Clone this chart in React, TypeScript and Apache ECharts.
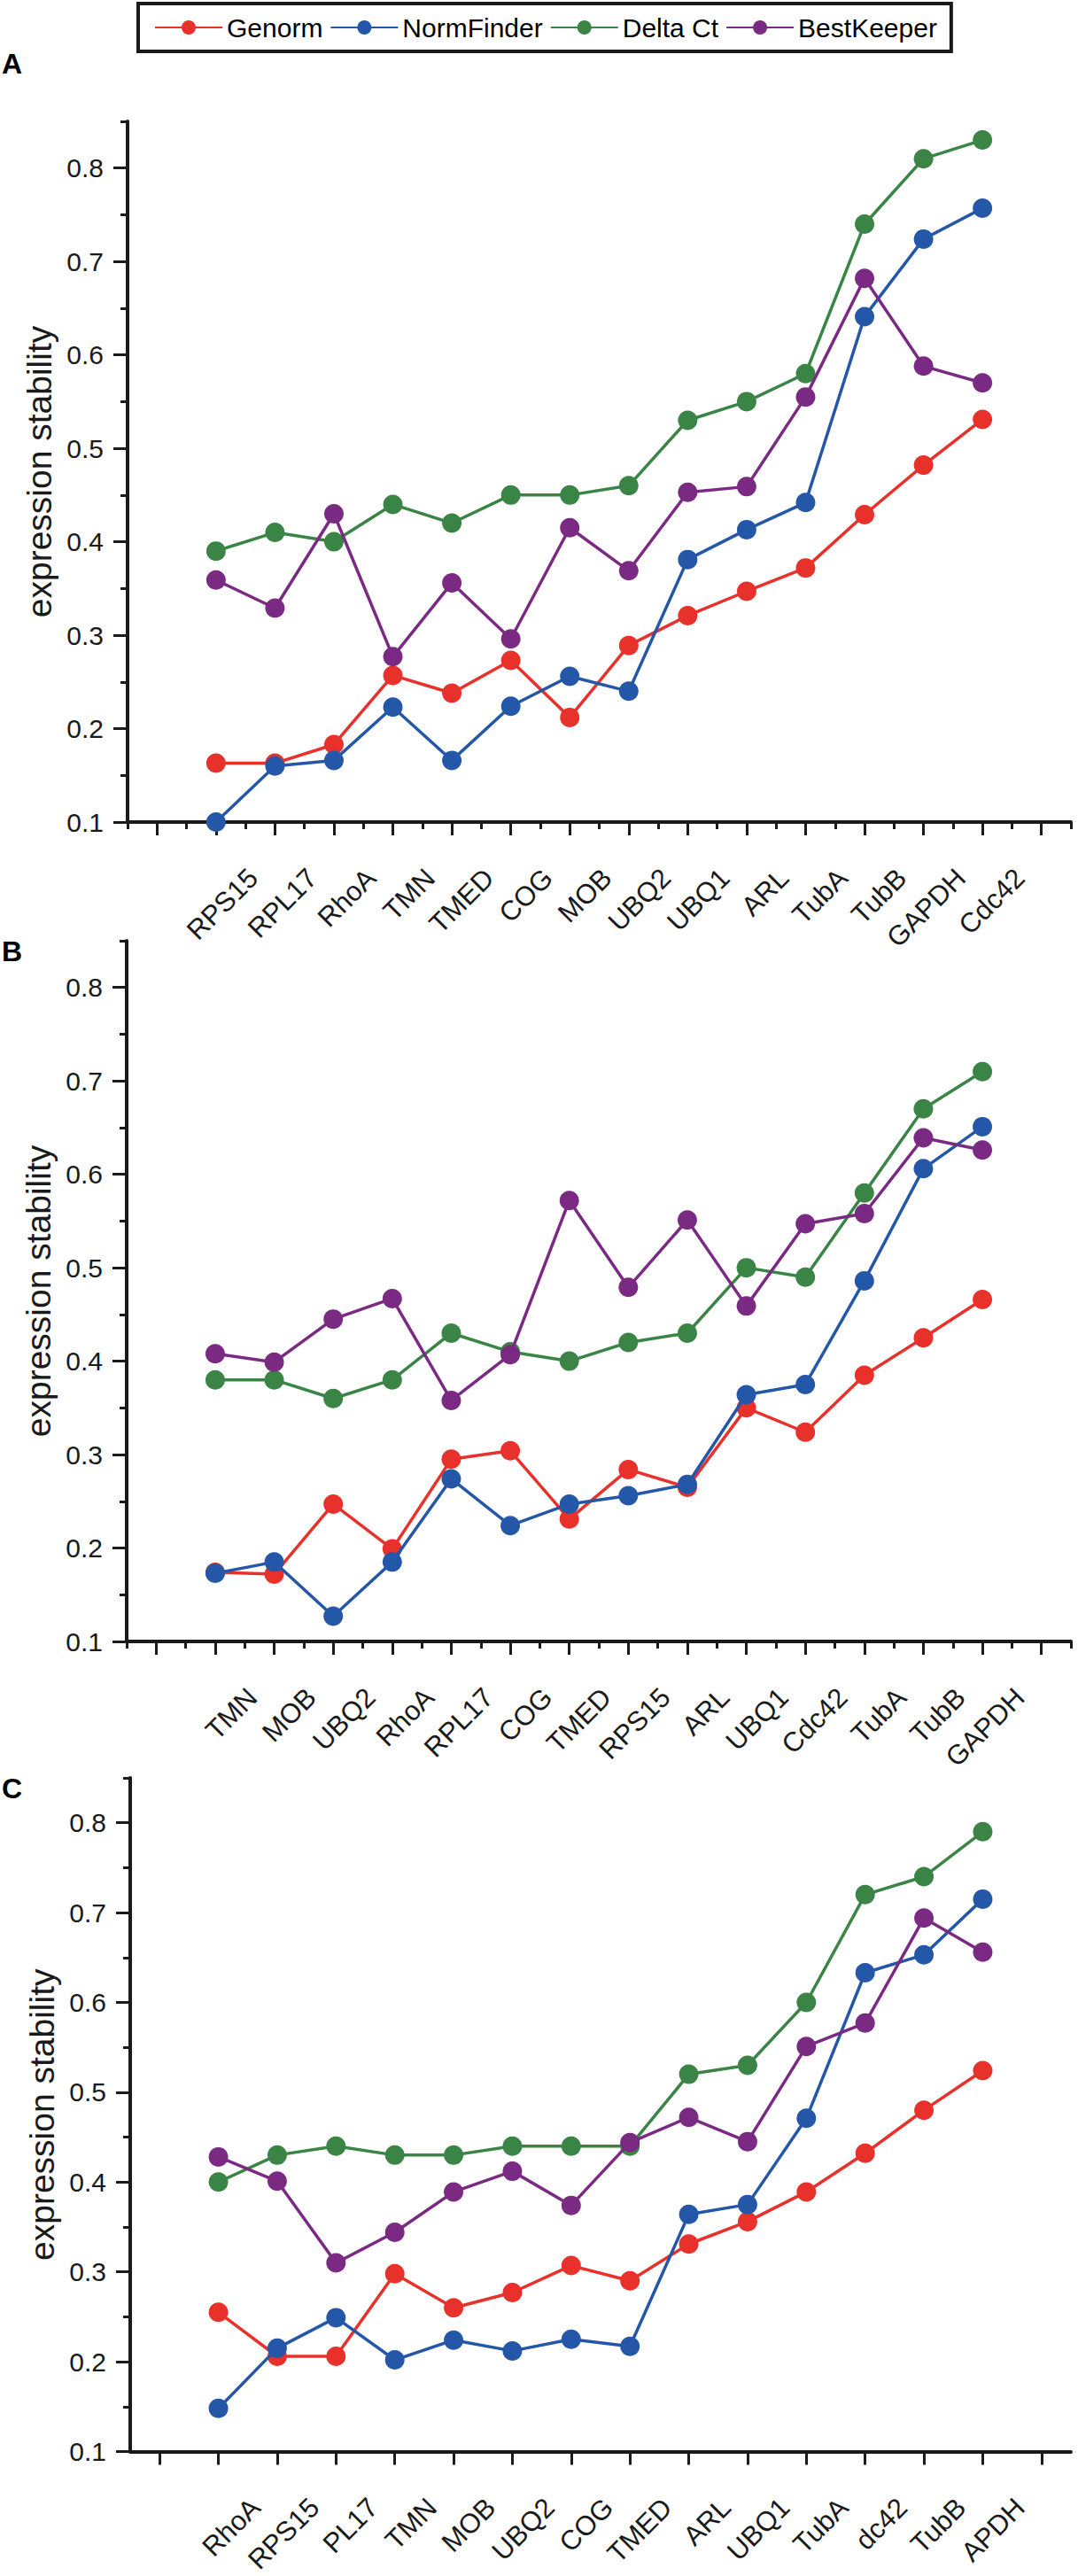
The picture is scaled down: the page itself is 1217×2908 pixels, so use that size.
import React, { useEffect, useRef } from 'react';
import * as echarts from 'echarts';

const seriesNames = ['Genorm', 'NormFinder', 'Delta Ct', 'BestKeeper'];
const seriesColors = ['#E8312A', '#2557A8', '#3A8545', '#7B2A83'];

const catsA = ['RPS15', 'RPL17', 'RhoA', 'TMN', 'TMED', 'COG', 'MOB', 'UBQ2', 'UBQ1', 'ARL', 'TubA', 'TubB', 'GAPDH', 'Cdc42'];
const genormA = [0.163, 0.163, 0.183, 0.257, 0.238, 0.273, 0.212, 0.289, 0.321, 0.347, 0.372, 0.429, 0.482, 0.531];
const normA = [0.1, 0.16, 0.166, 0.223, 0.166, 0.224, 0.256, 0.24, 0.381, 0.413, 0.442, 0.641, 0.724, 0.757];
const deltaA = [0.39, 0.41, 0.4, 0.44, 0.42, 0.45, 0.45, 0.46, 0.53, 0.55, 0.58, 0.74, 0.81, 0.83];
const bestA = [0.359, 0.329, 0.43, 0.277, 0.356, 0.296, 0.415, 0.369, 0.453, 0.459, 0.555, 0.682, 0.588, 0.57];

const catsB = ['TMN', 'MOB', 'UBQ2', 'RhoA', 'RPL17', 'COG', 'TMED', 'RPS15', 'ARL', 'UBQ1', 'Cdc42', 'TubA', 'TubB', 'GAPDH'];
const genormB = [0.174, 0.172, 0.247, 0.199, 0.295, 0.304, 0.231, 0.284, 0.265, 0.35, 0.324, 0.385, 0.425, 0.466];
const normB = [0.173, 0.185, 0.127, 0.185, 0.274, 0.224, 0.247, 0.256, 0.268, 0.364, 0.375, 0.486, 0.606, 0.651];
const deltaB = [0.38, 0.38, 0.36, 0.38, 0.43, 0.41, 0.4, 0.42, 0.43, 0.5, 0.49, 0.58, 0.67, 0.71];
const bestB = [0.408, 0.399, 0.445, 0.467, 0.358, 0.407, 0.572, 0.479, 0.551, 0.459, 0.547, 0.558, 0.639, 0.626];

const catsC = ['RhoA', 'RPS15', 'PL17', 'TMN', 'MOB', 'UBQ2', 'COG', 'TMED', 'ARL', 'UBQ1', 'TubA', 'dc42', 'TubB', 'APDH'];
const genormC = [0.255, 0.206, 0.206, 0.298, 0.26, 0.277, 0.307, 0.29, 0.331, 0.356, 0.389, 0.432, 0.48, 0.524];
const normC = [0.148, 0.215, 0.249, 0.202, 0.224, 0.212, 0.225, 0.217, 0.364, 0.375, 0.471, 0.633, 0.653, 0.715];
const deltaC = [0.4, 0.43, 0.44, 0.43, 0.43, 0.44, 0.44, 0.44, 0.52, 0.53, 0.6, 0.72, 0.74, 0.79];
const bestC = [0.428, 0.401, 0.31, 0.344, 0.389, 0.412, 0.374, 0.444, 0.472, 0.445, 0.551, 0.577, 0.694, 0.656];

const yMajorTicks = [0.1, 0.2, 0.3, 0.4, 0.5, 0.6, 0.7, 0.8];
const yMinorTicks = [0.15, 0.25, 0.35, 0.45, 0.55, 0.65, 0.75, 0.85];
const xMajorTicks = [-1, 0, 1, 2, 3, 4, 5, 6, 7, 8, 9, 10, 11, 12, 13, 14];
const xMinorTicks = [-1.5, -0.5, 0.5, 1.5, 2.5, 3.5, 4.5, 5.5, 6.5, 7.5, 8.5, 9.5, 10.5, 11.5, 12.5, 13.5, 14.5];
const panelLetters = ['A', 'B', 'C'];
const yTitle = 'expression stability';

const FONT = '"Liberation Sans", Arial, Helvetica, sans-serif';
const INK = '#1a1a1a';
const X_MIN = -1.5;
const X_MAX = 14.5;
const LABEL_SHIFT_PX = 42;

const panels = [
  { cats: catsA, values: [genormA, normA, deltaA, bestA], top: 137, height: 791, left: 144, minorX: true, letterTop: 56 },
  { cats: catsB, values: [genormB, normB, deltaB, bestB], top: 1062, height: 791, left: 143, minorX: true, letterTop: 1058 },
  { cats: catsC, values: [genormC, normC, deltaC, bestC], top: 2007, height: 792, left: 147, minorX: false, letterTop: 2003 },
];

function buildOption() {
  const grid: any[] = [];
  const xAxis: any[] = [];
  const yAxis: any[] = [];
  const series: any[] = [];
  const graphic: any[] = [];

  panels.forEach((p, g) => {
    const width = 1209 - p.left;
    grid.push({ left: p.left, width, top: p.top, height: p.height, containLabel: false });
    const xi = xAxis.length;
    xAxis.push({
      type: 'value', gridIndex: g, min: X_MIN, max: X_MAX, position: 'bottom',
      axisLine: { show: true, onZero: false, lineStyle: { color: INK, width: 4 } },
      axisTick: { show: true, customValues: xMajorTicks, length: 15, lineStyle: { color: INK, width: 3 } },
      axisLabel: { show: false },
      splitLine: { show: false },
    });
    if (p.minorX) {
      xAxis.push({
        type: 'value', gridIndex: g, min: X_MIN, max: X_MAX, position: 'bottom',
        axisLine: { show: false, onZero: false },
        axisTick: { show: true, customValues: xMinorTicks, length: 8, lineStyle: { color: INK, width: 3 } },
        axisLabel: { show: false },
        splitLine: { show: false },
      });
    }
    // label-only axis, nudged right so the rotated labels end just past their ticks
    const shift = (LABEL_SHIFT_PX * (X_MAX - X_MIN)) / width;
    xAxis.push({
      type: 'value', gridIndex: g, min: X_MIN - shift, max: X_MAX - shift, position: 'bottom',
      axisLine: { show: false, onZero: false },
      axisTick: { show: false },
      axisLabel: {
        show: true,
        customValues: p.cats.map((_, i) => i),
        formatter: (v: number) => p.cats[Math.round(v)] ?? '',
        rotate: 45, fontSize: 31, margin: 58, color: INK, fontFamily: FONT,
      },
      splitLine: { show: false },
    });
    const yi = yAxis.length;
    yAxis.push({
      type: 'value', gridIndex: g, min: 0.1, max: 0.85, position: 'left',
      axisLine: { show: true, onZero: false, lineStyle: { color: INK, width: 4 } },
      axisTick: { show: true, customValues: yMajorTicks, length: 16, lineStyle: { color: INK, width: 3 } },
      axisLabel: {
        show: true, customValues: yMajorTicks,
        formatter: (v: number) => v.toFixed(1),
        fontSize: 30, margin: 27, color: INK, fontFamily: FONT,
      },
      splitLine: { show: false },
      name: yTitle, nameLocation: 'middle', nameGap: 80,
      nameTextStyle: { fontSize: 39, color: INK, fontFamily: FONT },
    });
    yAxis.push({
      type: 'value', gridIndex: g, min: 0.1, max: 0.85, position: 'left', offset: 0,
      axisLine: { show: false, onZero: false },
      axisTick: { show: true, customValues: yMinorTicks, length: 8, lineStyle: { color: INK, width: 3 } },
      axisLabel: { show: false },
      splitLine: { show: false },
    });
    p.values.forEach((vals, s) => {
      series.push({
        type: 'line', name: seriesNames[s], xAxisIndex: xi, yAxisIndex: yi,
        data: vals.map((v, i) => [i, v]),
        symbol: 'circle', symbolSize: 22, showSymbol: true,
        itemStyle: { color: seriesColors[s] },
        lineStyle: { color: seriesColors[s], width: 3.5 },
        z: 2 + s,
      });
    });
    graphic.push({
      type: 'text', left: 2, top: p.letterTop,
      style: { text: panelLetters[g], fontSize: 32, fontWeight: 'bold', fontFamily: FONT, fill: '#000' },
    });
  });

  return {
    animation: false,
    backgroundColor: '#ffffff',
    legend: {
      data: seriesNames, top: 4, left: 156, orient: 'horizontal',
      borderColor: INK, borderWidth: 4, padding: [12, 16, 12, 18],
      itemWidth: 76, itemHeight: 20, itemGap: 8,
      textStyle: { fontSize: 30, color: '#000', fontFamily: FONT },
    },
    grid, xAxis, yAxis, series, graphic,
  };
}

export default function App() {
  const ref = useRef<HTMLDivElement>(null);
  useEffect(() => {
    document.body.style.margin = '0';
    const chart = echarts.init(ref.current as HTMLDivElement, null, { renderer: 'svg' });
    chart.setOption(buildOption() as any);
    return () => chart.dispose();
  }, []);
  return <div ref={ref} style={{ width: 1217, height: 2908 }} />;
}
